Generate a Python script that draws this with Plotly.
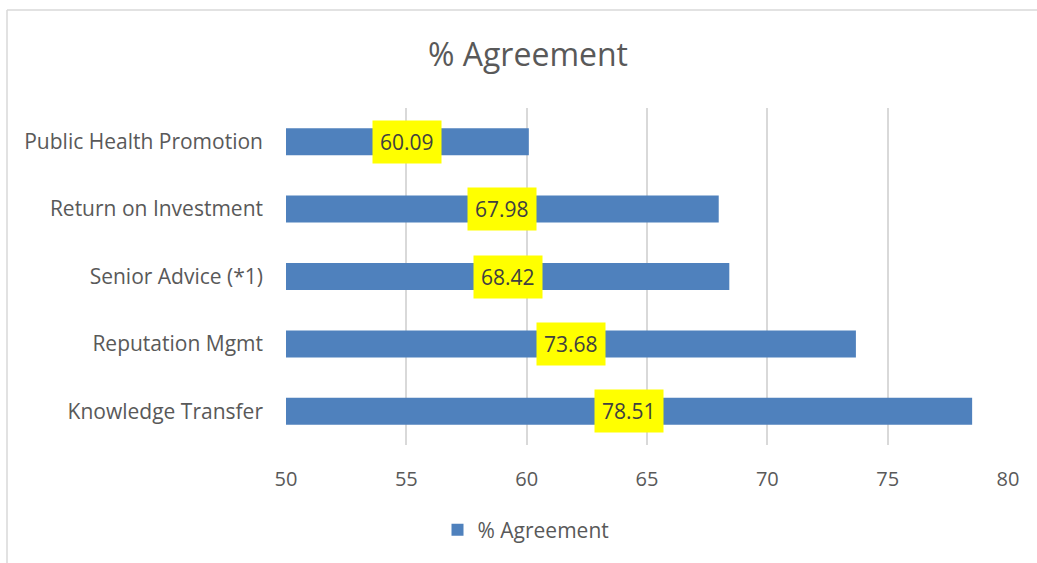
import plotly.graph_objects as go

categories = ["Knowledge Transfer", "Reputation Mgmt", "Senior Advice (*1)",
              "Return on Investment", "Public Health Promotion"]
values = [78.51, 73.68, 68.42, 67.98, 60.09]
series_name = "% Agreement"
axis_min, axis_max = 50, 80
tick_vals = [50, 55, 60, 65, 70, 75, 80]

W, H = 1037, 563
L, R, T, B = 286, 29, 108, 118
pw, ph = W - L - R, H - T - B

def px_x(x):
    return (x - L) / pw

def px_y(y):
    return (H - B - y) / ph

FONT = "Open Sans"
fig = go.Figure()
fig.add_trace(go.Bar(
    y=categories, x=values, orientation="h", name=series_name,
    marker=dict(color="#4F81BD", line=dict(width=0)), width=0.4,
    showlegend=True,
))

for c, v in zip(categories, values):
    fig.add_annotation(
        x=(axis_min + v) / 2, y=c, text=f"{v:.2f}", showarrow=False,
        font=dict(family=FONT, size=21, color="#404040"),
        bgcolor="#FFFF00", borderpad=7, xref="x", yref="y",
    )

# chart border (top and left visible in reference)
fig.add_shape(type="line", xref="paper", yref="paper",
              x0=px_x(7), x1=px_x(W + 5), y0=px_y(10), y1=px_y(10),
              line=dict(color="#d9d9d9", width=1.5))
fig.add_shape(type="line", xref="paper", yref="paper",
              x0=px_x(7), x1=px_x(7), y0=px_y(10), y1=px_y(H + 5),
              line=dict(color="#d9d9d9", width=1.5))

fig.update_layout(
    width=W, height=H,
    margin=dict(l=L, r=R, t=T, b=B),
    paper_bgcolor="white", plot_bgcolor="white",
    font=dict(family=FONT, color="#595959"),
    title=dict(text=series_name, x=528 / W, xanchor="center",
               y=1 - 55 / H, yanchor="middle", xref="container", yref="container",
               font=dict(family=FONT, size=32, color="#595959")),
    xaxis=dict(range=[axis_min, axis_max], tickvals=tick_vals,
               showgrid=True, gridcolor="#d9d9d9", gridwidth=2,
               zeroline=False, showline=False, ticks="",
               ticklabelstandoff=20,
               tickfont=dict(family=FONT, size=20, color="#595959")),
    yaxis=dict(showgrid=False, zeroline=False, showline=False, ticks="",
               ticklabelstandoff=22,
               tickfont=dict(family=FONT, size=21, color="#595959")),
    legend=dict(orientation="h", x=px_x(526), xanchor="center",
                y=px_y(530), yanchor="middle",
                font=dict(family=FONT, size=21, color="#595959"),
                itemwidth=30, bgcolor="rgba(0,0,0,0)"),
    bargap=0.6,
)

fig.write_html("out.html")
